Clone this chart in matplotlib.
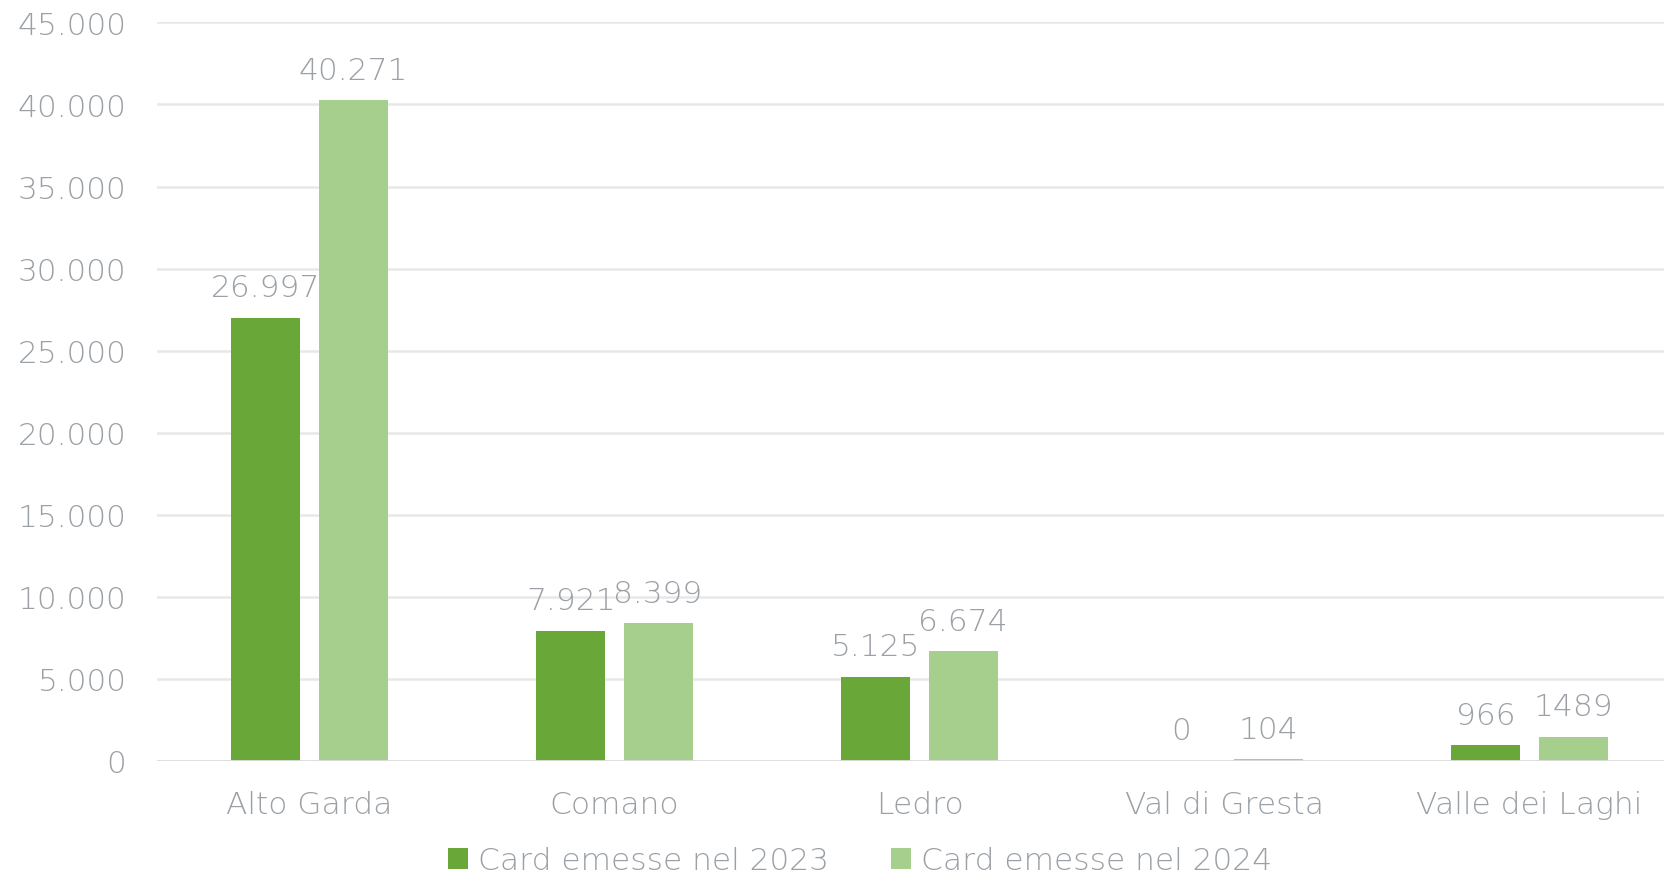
import matplotlib
matplotlib.use("Agg")
import matplotlib.pyplot as plt
import numpy as np
from matplotlib.ticker import FuncFormatter

categories = ["Alto Garda", "Comano", "Ledro", "Val di Gresta", "Valle dei Laghi"]
series_names = ["Card emesse nel 2023", "Card emesse nel 2024"]
values_2023 = [26997, 7921, 5125, 0, 966]
values_2024 = [40271, 8399, 6674, 104, 1489]
labels_2023 = ["26.997", "7.921", "5.125", "0", "966"]
labels_2024 = ["40.271", "8.399", "6.674", "104", "1489"]
yticks = [0, 5000, 10000, 15000, 20000, 25000, 30000, 35000, 40000, 45000]

c_dark = "#6aa739"
c_light = "#a6cf8e"
c_text = "#9aa0a6"
c_grid = "#e8e8e8"

plt.rcParams['font.family'] = ['DejaVu Sans']
fw = 'light'
fs = 22.5

W, H = 1665, 879
fig = plt.figure(figsize=(W / 100, H / 100), dpi=100)
left = 157 / W
right = 1682 / W
bottom = (H - 762) / H
top = (H - 23.4) / H
ax = fig.add_axes([left, bottom, right - left, top - bottom])

x = np.arange(len(categories))
bw = 0.226
off = 0.143
b1 = ax.bar(x - off, values_2023, bw, color=c_dark, label=series_names[0], zorder=3)
b2 = ax.bar(x + off, values_2024, bw, color=c_light, label=series_names[1], zorder=3)

for rects, labs in ((b1, labels_2023), (b2, labels_2024)):
    for r, lab in zip(rects, labs):
        ax.annotate(lab, (r.get_x() + r.get_width() / 2, r.get_height()),
                    xytext=(0, 30), textcoords="offset pixels", ha="center", va="center",
                    fontsize=fs, color=c_text, fontweight=fw)

ax.set_xlim(-0.5, len(categories) - 0.5)
ax.set_ylim(0, 45000)
ax.set_yticks(yticks)
ax.yaxis.set_major_formatter(FuncFormatter(lambda v, p: f"{int(v):,}".replace(",", ".")))
ax.set_xticks(x)
ax.set_xticklabels(categories)
ax.tick_params(axis="both", length=0, labelsize=fs, labelcolor=c_text)
ax.tick_params(axis="y", pad=22)
ax.tick_params(axis="x", pad=21)
for t in ax.get_xticklabels() + ax.get_yticklabels():
    t.set_fontweight(fw)
ax.grid(axis="y", color=c_grid, linewidth=1.8, zorder=0)
for s in ax.spines.values():
    s.set_visible(False)
ax.axhline(0, color="#dedede", linewidth=2, zorder=4)

leg = fig.legend(handles=[b1, b2], loc="center", bbox_to_anchor=(860 / W, 1 - 862 / H),
                 ncol=2, frameon=False, fontsize=fs, handlelength=0.65, handleheight=0.65,
                 handletextpad=0.3, columnspacing=2.0, borderpad=0.2)
for t in leg.get_texts():
    t.set_color(c_text)
    t.set_fontweight(fw)

fig.savefig("out.png", dpi=100)
